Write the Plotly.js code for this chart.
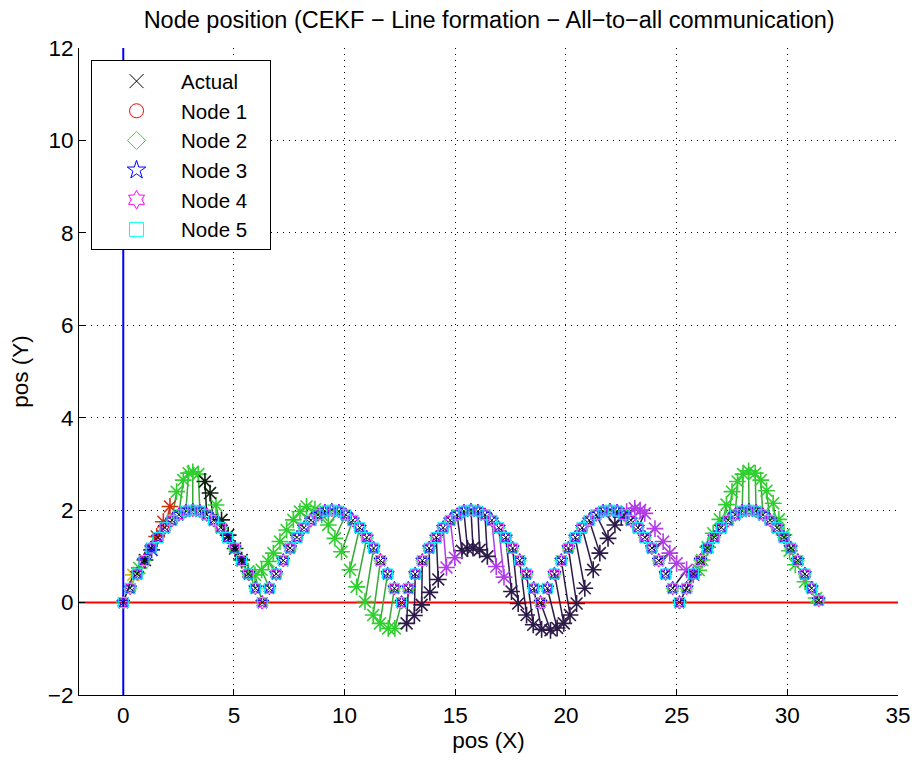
<!DOCTYPE html>
<html>
<head>
<meta charset="utf-8">
<script src="https://cdn.plot.ly/plotly-3.0.1.min.js"></script>
<style>html,body{margin:0;padding:0;background:#fff}#plot{width:916px;height:763px}</style>
</head>
<body>
<div id="plot"></div>
<script>
// ---- Data ----
const pathX = [0,0.31,0.63,0.94,1.26,1.57,1.88,2.20,2.51,2.83,3.14,3.46,3.77,4.08,4.40,4.71,5.03,5.34,5.65,5.97,
  6.28,6.60,6.91,7.23,7.54,7.85,8.17,8.48,8.80,9.11,9.42,9.74,10.05,10.37,10.68,11.00,11.31,11.62,11.94,12.25,
  12.57,12.88,13.19,13.51,13.82,14.14,14.45,14.77,15.08,15.39,15.71,16.02,16.34,16.65,16.96,17.28,17.59,17.91,18.22,18.54,
  18.85,19.16,19.48,19.79,20.11,20.42,20.73,21.05,21.36,21.68,21.99,22.31,22.62,22.93,23.25,23.56,23.88,24.19,24.50,24.82,
  25.13,25.45,25.76,26.08,26.39,26.70,27.02,27.33,27.65,27.96,28.27,28.59,28.90,29.22,29.53,29.85,30.16,30.47,30.79,31.10,31.42];
const pathY = [0,0.31,0.62,0.91,1.18,1.41,1.62,1.78,1.90,1.98,2.00,1.98,1.90,1.78,1.62,1.41,1.18,0.91,0.62,0.31,
  0,0.31,0.62,0.91,1.18,1.41,1.62,1.78,1.90,1.98,2.00,1.98,1.90,1.78,1.62,1.41,1.18,0.91,0.62,0.31,
  0,0.31,0.62,0.91,1.18,1.41,1.62,1.78,1.90,1.98,2.00,1.98,1.90,1.78,1.62,1.41,1.18,0.91,0.62,0.31,
  0,0.31,0.62,0.91,1.18,1.41,1.62,1.78,1.90,1.98,2.00,1.98,1.90,1.78,1.62,1.41,1.18,0.91,0.62,0.31,
  0,0.31,0.62,0.91,1.18,1.41,1.62,1.78,1.90,1.98,2.00,1.98,1.90,1.78,1.62,1.41,1.18,0.91,0.62,0.31,0.05];
// estimate (asterisk) positions, one per path point
const astX = [0.45,0.72,0.98,1.28,1.51,1.81,2.11,2.41,2.71,2.95,3.14,3.39,3.69,3.92,4.19,4.44,4.74,5.05,5.35,5.65,
  5.95,6.25,6.55,6.78,7.08,7.38,7.68,7.98,8.28,8.66,8.96,9.26,9.56,9.86,10.24,10.54,10.92,11.29,11.60,11.97,
  12.27,12.80,13.15,13.48,13.85,14.23,14.60,14.98,15.30,15.55,15.80,16.10,16.45,16.85,17.20,17.54,17.84,18.22,18.52,18.90,
  19.30,19.60,19.90,20.18,20.48,20.85,21.23,21.53,21.90,22.21,22.50,22.74,23.11,23.35,23.56,24.02,24.39,24.69,25.00,25.45,
  25.75,26.00,26.15,26.40,26.65,26.95,27.25,27.50,27.75,28.00,28.25,28.55,28.80,29.06,29.36,29.62,29.85,30.10,30.36,30.80,31.30];
const astY = [0.60,0.75,0.92,1.14,1.43,1.75,2.08,2.40,2.65,2.80,2.83,2.78,2.62,2.37,2.11,1.79,1.46,1.17,0.92,0.68,
  0.60,0.71,0.89,1.07,1.32,1.57,1.79,1.97,2.08,2.02,1.90,1.68,1.39,1.10,0.71,0.34,0.02,-0.27,-0.45,-0.56,
  -0.56,-0.45,-0.28,-0.05,0.22,0.50,0.76,0.97,1.12,1.17,1.18,1.14,1.00,0.78,0.55,0.24,-0.02,-0.27,-0.48,-0.58,
  -0.60,-0.55,-0.45,-0.27,-0.02,0.31,0.71,1.07,1.39,1.68,1.85,1.97,2.04,2.00,1.93,1.60,1.32,1.07,0.85,0.71,
  0.60,0.70,0.92,1.20,1.50,1.80,2.12,2.40,2.62,2.78,2.85,2.80,2.65,2.42,2.15,1.80,1.47,1.12,0.82,0.45,0.10];
// colour category of each estimate marker and of its connecting segment
const astGroup  = "ygkbrrrgggggkkgkkkkggggggggggggggggggggggpppppmmpppppmmppppppppppppppppmmmmmmmmmmgggggggggggggggggggg".split("");
const linkGroup = "ygkbrrrgggggkkgkkkkggggggggggggggggggggggpppppmmpppppmmppppppppppppppppppppppppppgggggggggggggggggggg".split("");
const legendNames = ["Actual","Node 1","Node 2","Node 3","Node 4","Node 5"];
const xTicks = [0,5,10,15,20,25,30,35];
const yTicks = [-2,0,2,4,6,8,10,12];
const titleText = "Node position (CEKF \u2212 Line formation \u2212 All\u2212to\u2212all communication)";

// ---- Styles ----
const groupColor = {y:"#e0b400", g:"#2fcf2f", k:"#0f220f", b:"#2424e6", r:"#d2300f", p:"#2c1a48", m:"#b23de8"};
const linkColor  = {y:"#1a2a2a", g:"#35a835", k:"#0f220f", b:"#2424e6", r:"#c8351a", p:"#2c1a48", m:"#b23de8"};
const nodeStyles = [
  {symbol:"x-thin-open", color:"#000000"},
  {symbol:"circle-open", color:"#ff0000"},
  {symbol:"diamond-open", color:"#00ff00"},
  {symbol:"star-open", color:"#0000ff"},
  {symbol:"hexagram-open", color:"#ff00ff"},
  {symbol:"square-open", color:"#00ffff"}
];

const traces = [];
// reference lines
traces.push({x:[-2,35], y:[0,0], mode:"lines", line:{color:"#ff0000", width:2}, showlegend:false, hoverinfo:"skip"});
traces.push({x:[0,0], y:[-2,12], mode:"lines", line:{color:"#0000ff", width:2}, showlegend:false, hoverinfo:"skip"});

// connecting segments grouped by colour
const groups = Object.keys(groupColor);
groups.forEach(g => {
  const xs = [], ys = [];
  for (let k = 0; k < pathX.length; k++) {
    if (linkGroup[k] === g) { xs.push(pathX[k], astX[k], null); ys.push(pathY[k], astY[k], null); }
  }
  if (xs.length) traces.push({x:xs, y:ys, mode:"lines", line:{color:linkColor[g], width:1.5}, showlegend:false, hoverinfo:"skip"});
});
// estimate asterisks grouped by colour
groups.forEach(g => {
  const xs = [], ys = [];
  for (let k = 0; k < astX.length; k++) {
    if (astGroup[k] === g) { xs.push(astX[k]); ys.push(astY[k]); }
  }
  if (xs.length) traces.push({x:xs, y:ys, mode:"markers",
    marker:{symbol:"asterisk-open", size:14, color:groupColor[g], line:{color:groupColor[g], width:1.6}},
    showlegend:false, hoverinfo:"skip"});
});
// actual & nodes (plot markers)
legendNames.forEach((name, i) => {
  traces.push({x:pathX, y:pathY, mode:"markers", name:name, showlegend:false,
    marker:{symbol:nodeStyles[i].symbol, size:10, color:nodeStyles[i].color, line:{color:nodeStyles[i].color, width:1}}});
});
// legend entries (larger legend symbols; trailing spaces widen the box)
legendNames.forEach((name, i) => {
  traces.push({x:[null], y:[null], mode:"markers", name:name + "\u00a0\u00a0\u00a0", showlegend:true,
    marker:{symbol:nodeStyles[i].symbol, size:14, color:nodeStyles[i].color, line:{color:nodeStyles[i].color, width:1}}});
});

const FONT = "Liberation Sans, Arial, sans-serif";
const axisFont = {family:FONT, size:22.5, color:"#000"};
const layout = {
  width:916, height:763,
  margin:{l:79, r:18, t:48, b:68},
  paper_bgcolor:"#fff", plot_bgcolor:"#fff",
  font:{family:FONT, size:22, color:"#000"},
  title:{text:titleText, font:{family:FONT, size:23.5, color:"#000"}, x:0.534, xanchor:"center", y:0.974, yanchor:"middle"},
  xaxis:{range:[-2,35], tickvals:xTicks, ticks:"inside", ticklen:6, tickcolor:"#000", showline:true, mirror:false,
    linecolor:"#000", linewidth:1, showgrid:true, gridcolor:"#000", griddash:"1px,5px", gridwidth:1, zeroline:false,
    tickfont:axisFont, title:{text:"pos (X)", font:axisFont, standoff:4}},
  yaxis:{range:[-2,12], tickvals:yTicks, ticks:"inside", ticklen:6, tickcolor:"#000", showline:true, mirror:false,
    linecolor:"#000", linewidth:1, showgrid:true, gridcolor:"#000", griddash:"1px,5px", gridwidth:1, zeroline:false,
    tickfont:axisFont, title:{text:"pos (Y)", font:axisFont, standoff:12}},
  legend:{x:0.0147, y:0.981, xanchor:"left", yanchor:"top", bgcolor:"#fff", bordercolor:"#000", borderwidth:1,
    font:{family:FONT, size:20.5, color:"#000"}, itemwidth:79, tracegroupgap:0},
  showlegend:true
};
Plotly.newPlot("plot", traces, layout, {displayModeBar:false, staticPlot:true});
</script>
</body>
</html>
